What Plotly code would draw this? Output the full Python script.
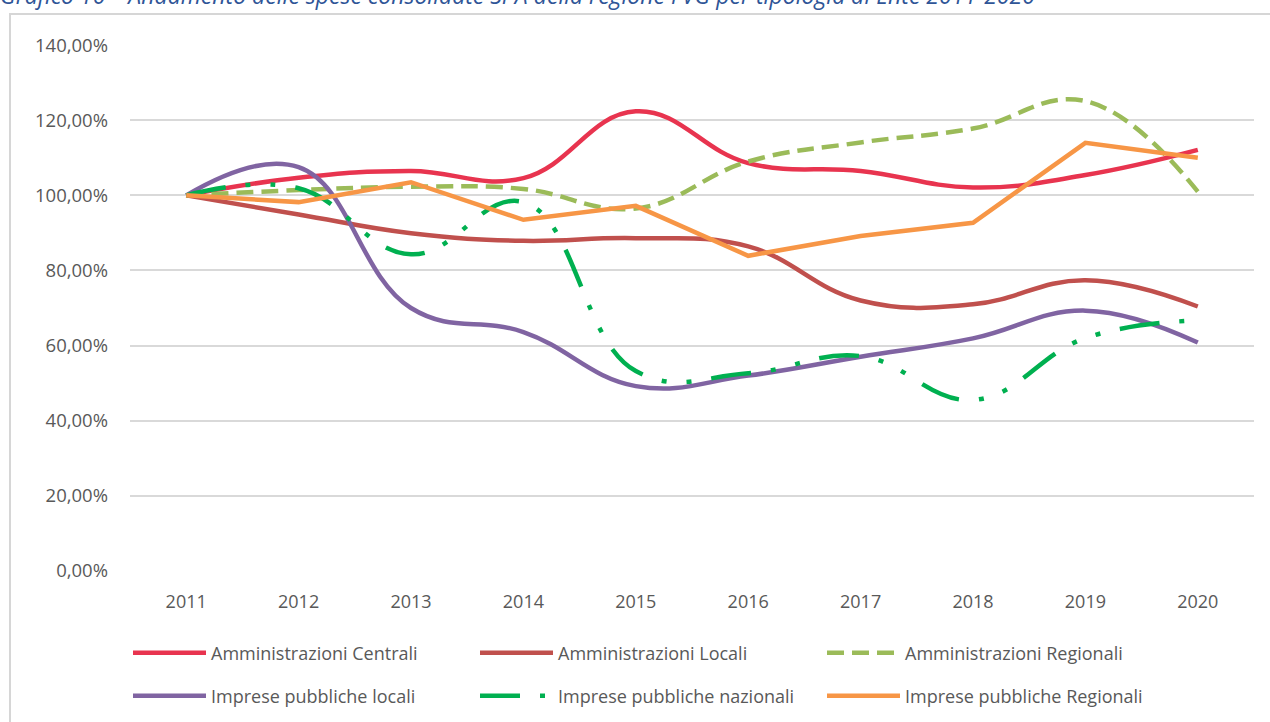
import plotly.graph_objects as go

years = ["2011", "2012", "2013", "2014", "2015", "2016", "2017", "2018", "2019", "2020"]

amm_centrali = [100.0, 104.7, 106.5, 104.6, 122.4, 108.6, 106.5, 102.1, 105.4, 112.1]
amm_locali = [100.0, 94.9, 89.9, 87.9, 88.6, 86.4, 72.0, 71.0, 77.4, 70.4]
amm_regionali = [100.0, 101.4, 102.3, 101.7, 96.5, 109.0, 114.1, 117.8, 125.1, 101.0]
imp_locali = [100.0, 107.5, 70.0, 63.6, 49.2, 52.0, 57.0, 61.9, 69.3, 60.8]
imp_nazionali = [100.0, 101.9, 84.3, 98.2, 53.2, 52.6, 57.2, 45.5, 62.0, 66.7]
imp_regionali = [100.0, 98.2, 103.5, 93.5, 97.2, 83.9, 89.2, 92.7, 114.0, 110.0]

names = ["Amministrazioni Centrali", "Amministrazioni Locali", "Amministrazioni Regionali",
         "Imprese pubbliche locali", "Imprese pubbliche nazionali", "Imprese pubbliche Regionali"]
series = [amm_centrali, amm_locali, amm_regionali, imp_locali, imp_nazionali, imp_regionali]
colors = ["#E8344F", "#C0504D", "#9BBB59", "#8064A2", "#00B050", "#F79646"]
dashes = ["solid", "solid", "17px,8px", "solid", "40px,20px,5px,20px,5px,20px", "solid"]
shapes_line = ["spline", "spline", "spline", "spline", "spline", "linear"]
legends = ["legend", "legend", "legend", "legend2", "legend2", "legend2"]

W, H = 1270, 722
L, R, T, B = 130, 16, 45, 151
pw, ph = W - L - R, H - T - B

def px_x(p):
    return (p - L) / pw

def px_y(p):
    return (H - B - p) / ph

fig = go.Figure()
for n, s, c, d, sh, lg in zip(names, series, colors, dashes, shapes_line, legends):
    fig.add_trace(go.Scatter(
        x=years, y=[v / 100 for v in s], name=n, mode="lines",
        line=dict(color=c, width=4.5, dash=d, shape=sh, smoothing=1.2),
        legend=lg, hoverinfo="skip"))

font_family = "Open Sans, Noto Sans, sans-serif"
legend_common = dict(orientation="h", xanchor="left", yanchor="middle",
                     font=dict(family=font_family, size=18, color="#595959"),
                     entrywidth=259, entrywidthmode="pixels", itemwidth=73,
                     bgcolor="rgba(0,0,0,0)", traceorder="normal")

fig.update_layout(
    width=W, height=H,
    margin=dict(l=L, r=R, t=T, b=B, autoexpand=False),
    paper_bgcolor="white", plot_bgcolor="white",
    separators=",.",
    showlegend=True,
    legend=dict(x=px_x(128), y=px_y(653), **legend_common),
    legend2=dict(x=px_x(128), y=px_y(696), **legend_common),
    xaxis=dict(type="category", range=[-0.5, 9.5], showgrid=False, zeroline=False,
               showline=False, ticks="", ticklabelstandoff=18,
               tickfont=dict(family=font_family, size=18, color="#595959")),
    yaxis=dict(range=[-0.0005, 1.4005], dtick=0.2, tick0=0, tickformat=".2%",
               showgrid=True, gridcolor="#D9D9D9", gridwidth=1.5, zeroline=False,
               showline=False, ticks="", ticklabelstandoff=21,
               tickfont=dict(family=font_family, size=18.5, color="#595959")),
    shapes=[dict(type="rect", xref="paper", yref="paper",
                 x0=px_x(10), x1=px_x(1300), y0=px_y(14), y1=px_y(760),
                 line=dict(color="#D6D6D6", width=2), fillcolor="rgba(0,0,0,0)", layer="above")],
    annotations=[dict(text="<i>Grafico 10 – Andamento delle spese consolidate SPA della regione FVG per tipologia di Ente 2011-2020</i>",
                      xref="paper", yref="paper", x=px_x(-2), y=px_y(13),
                      xanchor="left", yanchor="bottom", showarrow=False,
                      font=dict(family=font_family, size=23, color="#2F5597"))],
)

fig.write_html("out.html", config={"displayModeBar": False},
               post_script="document.body.style.margin='0px';")
